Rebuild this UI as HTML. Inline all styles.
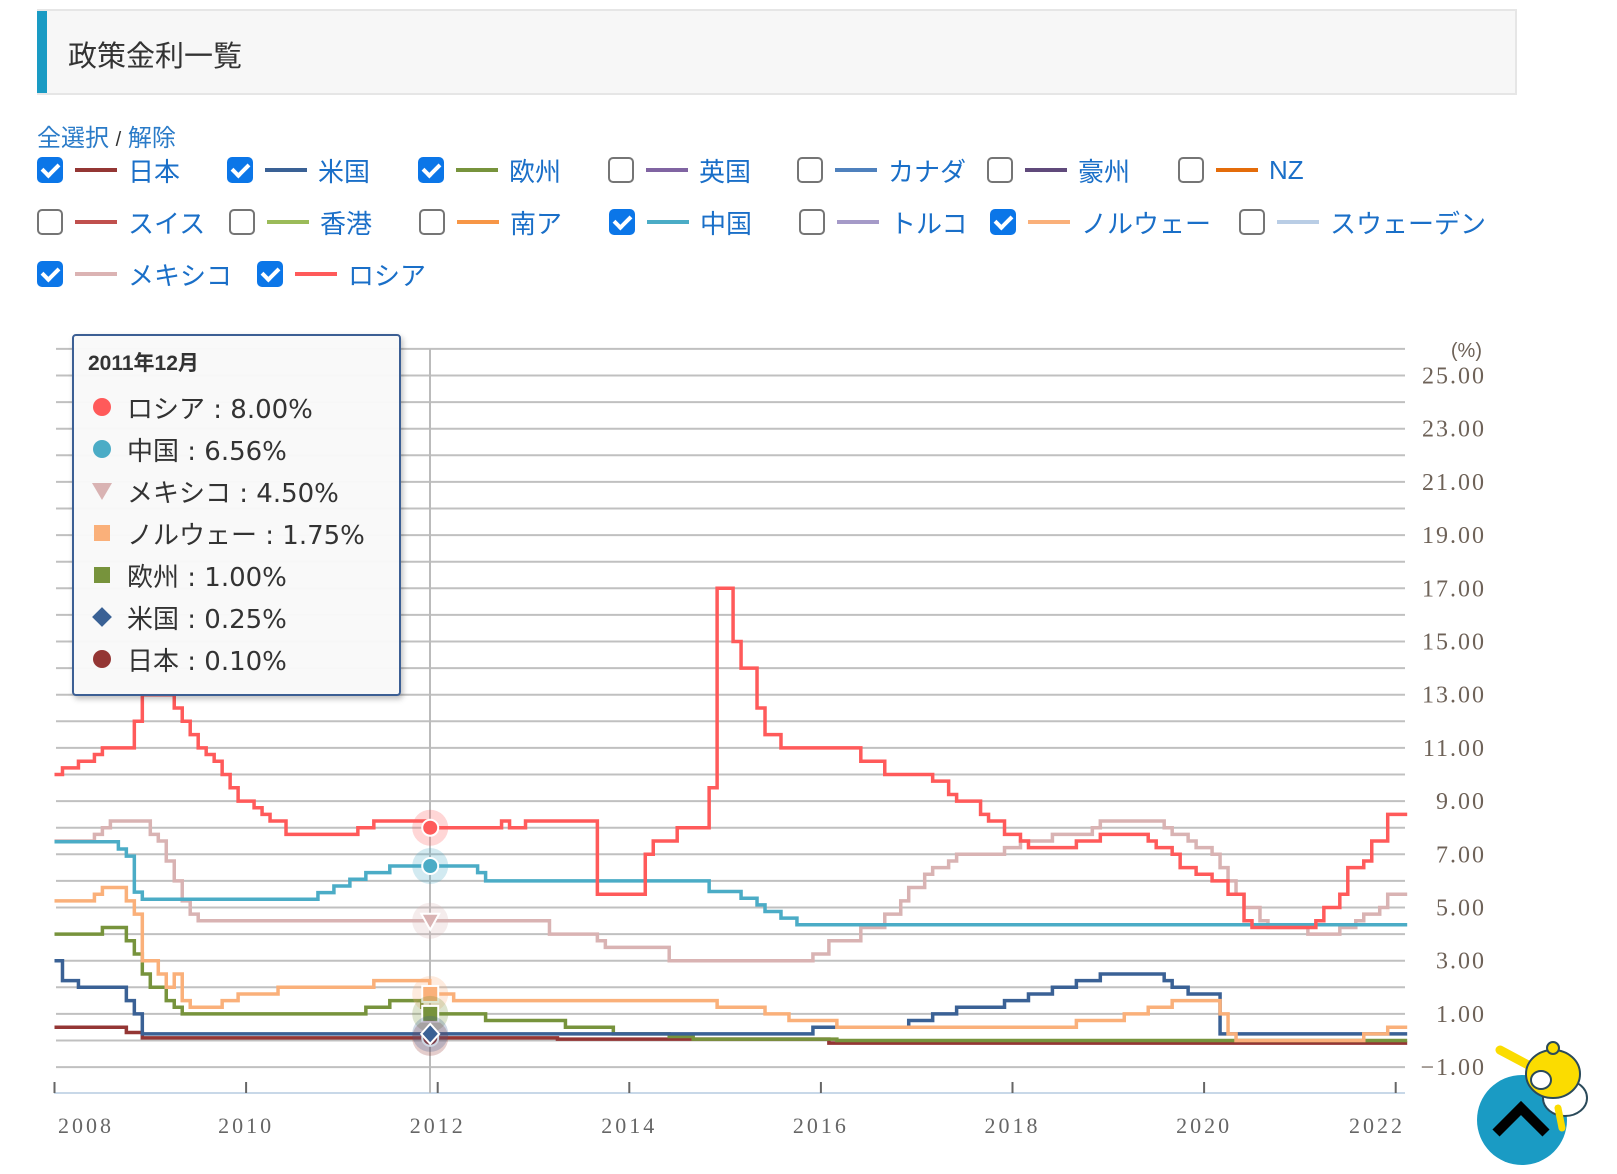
<!DOCTYPE html>
<html><head><meta charset="utf-8">
<style>
body{margin:0;background:#fff;width:1617px;height:1174px;overflow:hidden;font-family:"Liberation Sans","Noto Sans CJK JP",sans-serif;position:relative}
.title{position:absolute;left:37px;top:9px;width:1480px;height:86px;background:#f7f7f7;border:2px solid #e6e6e6;border-left:none;box-sizing:border-box}
.title .bar{position:absolute;left:0;top:0;width:10px;height:100%;background:#1a9bc4}
.title span{position:absolute;left:31px;top:22px;font-size:29px;color:#333}
.sel{position:absolute;left:37px;top:118px;font-size:24px;color:#2a7bc8}
.item{position:absolute;height:26px;display:flex;align-items:center}
.cb{width:26px;height:26px;border-radius:5px;box-sizing:border-box;border:2px solid #757575;background:#fff;position:relative}
.cb.on{background:#0b76e8;border:none}
.cb.on::after{content:"";position:absolute;left:8px;top:3px;width:7px;height:13px;border:solid #fff;border-width:0 4px 4px 0;transform:rotate(45deg)}
.ln{width:42px;height:4px;margin-left:12px}
.lb{margin-left:11px;font-size:26px;color:#1a6fc8;white-space:nowrap}
</style></head><body>
<div class="title"><div class="bar"></div><span>政策金利一覧</span></div>
<div class="sel">全選択 <span style="color:#333;font-size:20px">/</span> 解除</div>
<div id="legend"></div>
<svg id="chart" width="1617" height="1174" style="position:absolute;left:0;top:0"></svg>
<div style="position:absolute;left:72px;top:334px;width:329px;height:362px;background:rgba(249,249,249,0.97);border:2px solid #3c5f94;border-radius:4px;box-shadow:2px 3px 6px rgba(0,0,0,0.25);box-sizing:border-box">
<div style="position:absolute;left:14px;top:11px;font-size:21px;font-weight:bold;color:#333">2011年12月</div>
<div id="ttrows"></div>
</div>
<div style="position:absolute;left:1477px;top:1075px;width:90px;height:90px;border-radius:50%;background:#1a9bc4"></div>
<svg width="1617" height="1174" style="position:absolute;left:0;top:0;pointer-events:none">
<polyline points="1496,1133 1521,1108 1546,1133" fill="none" stroke="#000" stroke-width="10"/>
<g>
<path d="M1500 1050 L1530 1066" stroke="#fbdc00" stroke-width="9" stroke-linecap="round"/>
<ellipse cx="1565" cy="1098" rx="22" ry="18" fill="#fff" stroke="#2a4a5a" stroke-width="2"/>
<ellipse cx="1553" cy="1074" rx="27" ry="24" fill="#fbdc00" stroke="#2a4a5a" stroke-width="2"/>
<ellipse cx="1541" cy="1080" rx="10" ry="9" fill="#fff" stroke="#2a4a5a" stroke-width="2"/>
<circle cx="1553" cy="1048" r="6" fill="#fbdc00" stroke="#2a4a5a" stroke-width="2"/>
<path d="M1558 1108 L1562 1128" stroke="#fbdc00" stroke-width="7" stroke-linecap="round"/>
</g>
</svg>
<script>
// ---------- legend ----------
const legNames=["日本","米国","欧州","英国","カナダ","豪州","NZ","スイス","香港","南ア","中国","トルコ","ノルウェー","スウェーデン","メキシコ","ロシア"];
const legColors=["#943634","#3a6195","#77933c","#8064a2","#4f81bd","#604a7b","#e46c0a","#c0504d","#9bbb59","#f79646","#4bacc6","#a59ac8","#fab07a","#b9cde5","#dbb3b3","#ff5a5a"];
const legChecked=[1,1,1,0,0,0,0,0,0,0,1,0,1,0,1,1];
const legPos=[[37,157],[227,157],[418,157],[608,157],[797,157],[987,157],[1178,157],[37,209],[229,209],[419,209],[609,209],[799,209],[990,209],[1239,209],[37,261],[257,261]];
const lg=document.getElementById('legend');
legNames.forEach((n,i)=>{
 const d=document.createElement('div');d.className='item';
 
 
 d.style.left=legPos[i][0]+'px';d.style.top=legPos[i][1]+'px';
 d.innerHTML='<div class="cb'+(legChecked[i]?' on':'')+'"></div><div class="ln" style="background:'+legColors[i]+'"></div><div class="lb">'+n+'</div>';
 lg.appendChild(d);
});
// ---------- data (step series: change month, value) ----------
const ruDates=["2008-01","2008-02","2008-04","2008-06","2008-07","2008-11","2008-12","2009-04","2009-05","2009-06","2009-07","2009-08","2009-09","2009-10","2009-11","2009-12","2010-02","2010-03","2010-04","2010-06","2011-03","2011-05","2011-12","2012-09","2012-10","2012-12","2013-09","2014-03","2014-04","2014-07","2014-11","2014-12","2015-02","2015-03","2015-05","2015-06","2015-08","2016-06","2016-09","2017-03","2017-05","2017-06","2017-09","2017-10","2017-12","2018-02","2018-03","2018-09","2018-12","2019-06","2019-07","2019-09","2019-10","2019-12","2020-02","2020-04","2020-06","2020-07","2021-03","2021-04","2021-06","2021-07","2021-09","2021-10","2021-12"];
const ruVals=[10,10.25,10.5,10.75,11,12,13,12.5,12,11.5,11,10.75,10.5,10,9.5,9,8.75,8.5,8.25,7.75,8,8.25,8,8.25,8,8.25,5.5,7,7.5,8,9.5,17,15,14,12.5,11.5,11,10.5,10,9.75,9.25,9,8.5,8.25,7.75,7.5,7.25,7.5,7.75,7.5,7.25,7,6.5,6.25,6,5.5,4.5,4.25,4.5,5,5.5,6.5,6.75,7.5,8.5];
const cnDates=["2008-01","2008-09","2008-10","2008-11","2008-12","2010-10","2010-12","2011-02","2011-04","2011-07","2012-06","2012-07","2014-11","2015-03","2015-05","2015-06","2015-08","2015-10"];
const cnVals=[7.47,7.2,6.93,5.58,5.31,5.56,5.81,6.06,6.31,6.56,6.31,6.0,5.6,5.35,5.1,4.85,4.6,4.35];
const mxDates=["2008-01","2008-06","2008-07","2008-08","2009-01","2009-02","2009-03","2009-04","2009-05","2009-06","2009-07","2013-03","2013-09","2013-10","2014-06","2015-12","2016-02","2016-06","2016-09","2016-11","2016-12","2017-02","2017-03","2017-05","2017-06","2017-12","2018-02","2018-06","2018-11","2018-12","2019-08","2019-09","2019-11","2019-12","2020-02","2020-03","2020-04","2020-05","2020-06","2020-08","2020-09","2021-02","2021-06","2021-08","2021-09","2021-11","2021-12"];
const mxVals=[7.5,7.75,8,8.25,7.75,7.5,6.75,6,5.25,4.75,4.5,4,3.75,3.5,3,3.25,3.75,4.25,4.75,5.25,5.75,6.25,6.5,6.75,7,7.25,7.5,7.75,8,8.25,8,7.75,7.5,7.25,7,6.5,6,5.5,5,4.5,4.25,4,4.25,4.5,4.75,5,5.5];
const noDates=["2008-01","2008-06","2008-07","2008-10","2008-11","2008-12","2009-02","2009-03","2009-04","2009-05","2009-06","2009-10","2009-12","2010-05","2011-05","2011-12","2012-03","2014-12","2015-06","2015-09","2016-03","2018-09","2019-03","2019-06","2019-09","2020-03","2020-04","2020-05","2021-09","2021-12"];
const noVals=[5.25,5.5,5.75,5.25,4.75,3,2.5,2,2.5,1.5,1.25,1.5,1.75,2,2.25,1.75,1.5,1.25,1,0.75,0.5,0.75,1,1.25,1.5,1,0.25,0,0.25,0.5];
const euDates=["2008-01","2008-07","2008-10","2008-11","2008-12","2009-01","2009-03","2009-04","2009-05","2011-04","2011-07","2011-11","2011-12","2012-07","2013-05","2013-11","2014-06","2014-09","2016-03"];
const euVals=[4,4.25,3.75,3.25,2.5,2,1.5,1.25,1,1.25,1.5,1.25,1,0.75,0.5,0.25,0.15,0.05,0];
const usDates=["2008-01","2008-02","2008-04","2008-10","2008-11","2008-12","2015-12","2016-12","2017-03","2017-06","2017-12","2018-03","2018-06","2018-09","2018-12","2019-08","2019-09","2019-11","2020-03"];
const usVals=[3,2.25,2,1.5,1,0.25,0.5,0.75,1,1.25,1.5,1.75,2,2.25,2.5,2.25,2,1.75,0.25];
const jpDates=["2008-01","2008-10","2008-12","2013-04","2016-02"];
const jpVals=[0.5,0.3,0.1,0.05,-0.1];
const yTicks=[-1,1,3,5,7,9,11,13,15,17,19,21,23,25];
const xTicks=[2008,2010,2012,2014,2016,2018,2020,2022];
// ---------- scales ----------
const END=2022.12;
const X=t=>54.5+(t-2008)*95.8;
const Y=v=>1040.5-26.6*v;
const T=s=>{const [a,b]=s.split('-').map(Number);return a+(b-1)/12;};
const svg=document.getElementById('chart');
const NS='http://www.w3.org/2000/svg';
function el(tag,attrs){const e=document.createElementNS(NS,tag);for(const k in attrs)e.setAttribute(k,attrs[k]);svg.appendChild(e);return e;}
for(let v=-1;v<=26;v++){
 const g=el('line',{x1:56,x2:1405,y1:Y(v),y2:Y(v),stroke:'#c0c0c0','stroke-width':2});
 
 
}
yTicks.forEach(v=>{
 const t=el('text',{x:1486,y:Y(v)+8,'text-anchor':'end','font-size':24,'letter-spacing':2,fill:'#6e6258','font-family':'Liberation Serif, serif'});
 t.textContent=(v<0?'−':'')+Math.abs(v).toFixed(2);
 
 
});
const pu=el('text',{x:1482,y:357,'text-anchor':'end','font-size':20,fill:'#6e6258','font-family':'Liberation Sans, sans-serif'});
pu.textContent='(%)';


const ax=el('line',{x1:54,x2:1405,y1:1093,y2:1093,stroke:'#c8d8e8','stroke-width':2});


xTicks.forEach((yr,i)=>{
 el('line',{x1:X(yr),x2:X(yr),y1:1082,y2:1093,stroke:'#666','stroke-width':2});
 const last=i==xTicks.length-1;
 const t=el('text',{x:i==0?58:(last?1405:X(yr)),y:1133,'text-anchor':i==0?'start':(last?'end':'middle'),'font-size':22,'letter-spacing':3,fill:'#666','font-family':'Liberation Serif, serif'});
 t.textContent=yr;
 
 
});
const ch=el('line',{x1:430,x2:430,y1:349,y2:1093,stroke:'#bbb','stroke-width':2});


function step(dates,vals,color,name){
 let d='';
 dates.forEach((s,i)=>{const x=X(T(s)),y=Y(vals[i]);d+=(i==0?'M'+x+' '+y:' H'+x+' V'+y);});
 d+=' H'+X(END);
 const p=el('path',{d:d,fill:'none',stroke:color,'stroke-width':3.5,'stroke-linejoin':'miter'});
 
 
}
step(jpDates,jpVals,'#943634','series-japan');
step(euDates,euVals,'#77933c','series-europe');
step(usDates,usVals,'#3a6195','series-us');
step(noDates,noVals,'#fab07a','series-norway');
step(mxDates,mxVals,'#d9b3b3','series-mexico');
step(cnDates,cnVals,'#4bacc6','series-china');
step(ruDates,ruVals,'#ff5a5a','series-russia');
const hx=X(T("2011-12"))+0.5;
const hv=[[8.0,'#ff5a5a','c'],[6.56,'#4bacc6','c'],[4.5,'#d9b3b3','t'],[1.75,'#fab07a','s'],[1.0,'#77933c','s'],[0.1,'#943634','c'],[0.25,'#3a6195','d']];
hv.forEach(m=>{
 const y=Y(m[0]);
 el('circle',{cx:hx,cy:y,r:18,fill:m[1],opacity:0.25});
 let mk;
 if(m[2]=='c')mk=el('circle',{cx:hx,cy:y,r:8,fill:m[1],stroke:'#fff','stroke-width':2});
 else if(m[2]=='s')mk=el('rect',{x:hx-8,y:y-8,width:16,height:16,fill:m[1],stroke:'#fff','stroke-width':2});
 else if(m[2]=='t')mk=el('path',{d:`M${hx-9} ${y-7} H${hx+9} L${hx} ${y+9}Z`,fill:m[1],stroke:'#fff','stroke-width':2});
 else mk=el('path',{d:`M${hx} ${y-10} L${hx+9} ${y} L${hx} ${y+10} L${hx-9} ${y}Z`,fill:m[1],stroke:'#fff','stroke-width':2});
 
 
});
const ttNames=["ロシア","中国","メキシコ","ノルウェー","欧州","米国","日本"];
const ttVals=["8.00","6.56","4.50","1.75","1.00","0.25","0.10"];
const ttColors=["#ff5a5a","#4bacc6","#d9b3b3","#fab07a","#77933c","#3a6195","#943634"];
const ttShapes=["c","c","t","s","s","d","c"];
const tr=document.getElementById('ttrows');
ttNames.forEach((n,i)=>{
 const r=document.createElement('div');
 
 
 r.style.cssText='position:absolute;left:17px;top:'+(54+i*42)+'px;height:34px;display:flex;align-items:center;font-size:26px;color:#333;white-space:nowrap;font-family:"DejaVu Sans","Noto Sans CJK JP",sans-serif';
 let s=ttShapes[i],c=ttColors[i],mk;
 if(s=='c')mk='<div style="width:18px;height:18px;border-radius:50%;background:'+c+'"></div>';
 else if(s=='s')mk='<div style="width:16px;height:16px;margin:0 1px;background:'+c+'"></div>';
 else if(s=='t')mk='<div style="width:0;height:0;border-left:10px solid transparent;border-right:10px solid transparent;border-top:17px solid '+c+';margin-left:-1px"></div>';
 else mk='<div style="width:14px;height:14px;margin:0 2px;background:'+c+';transform:rotate(45deg)"></div>';
 r.innerHTML='<div style="width:22px;display:flex;justify-content:center">'+mk+'</div><span style="margin-left:14px">'+n+' : '+ttVals[i]+'%</span>';
 tr.appendChild(r);
});
</script>
</body></html>
